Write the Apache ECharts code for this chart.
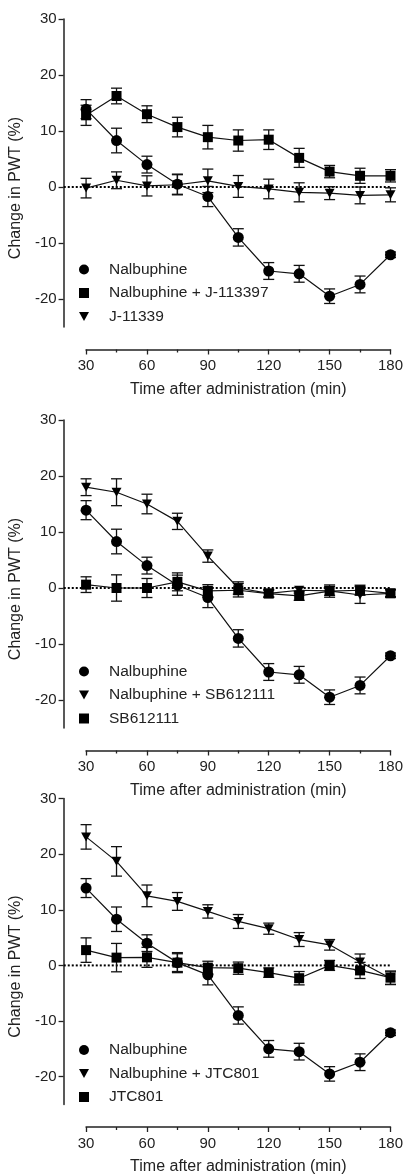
<!DOCTYPE html>
<html>
<head>
<meta charset="utf-8">
<script src="https://cdn.jsdelivr.net/npm/echarts@6/dist/echarts.min.js"></script>
<style>
html,body{margin:0;padding:0;background:#fff;}
#c{width:406px;height:1176px;}
</style>
</head>
<body>
<div id="c"></div>
<script>
// ---- data ----
const times = [30, 45, 60, 75, 90, 105, 120, 135, 150, 165, 180];

const nalbuphine   = [13.9, 8.3, 4.0, 0.5, -1.7, -9.0, -15.0, -15.5, -19.5, -17.4, -12.1];
const nalbuphineSE = [1.7, 2.2, 1.5, 1.8, 1.8, 1.55, 1.5, 1.5, 1.3, 1.5, 0.5];

const nalJ113397   = [12.8, 16.25, 13.0, 10.7, 8.9, 8.3, 8.45, 5.2, 2.75, 2.0, 2.0];
const nalJ113397SE = [1.8, 1.4, 1.5, 1.75, 2.1, 1.9, 1.75, 1.7, 1.1, 1.35, 1.1];
const j11339       = [-0.2, 1.2, 0.2, 0.4, 1.1, 0.1, -0.35, -0.95, -1.1, -1.5, -1.4];
const j11339SE     = [1.75, 1.5, 1.8, 1.8, 2.1, 1.95, 1.75, 1.7, 1.15, 1.5, 1.25];

const nalSB        = [18.0, 17.1, 15.0, 11.9, 5.7, 0.0, -0.95, -0.4, -0.5, -1.25, -0.95];
const nalSBSE      = [1.5, 2.4, 1.75, 1.45, 1.1, 1.1, 0.7, 0.5, 0.8, 1.5, 0.6];
const sb612111     = [0.6, 0.0, 0.0, 1.1, -0.5, -0.4, -1.0, -1.4, -0.55, -0.4, -0.95];
const sb612111SE   = [1.4, 2.35, 1.7, 1.6, 1.1, 1.2, 0.6, 0.8, 1.1, 0.9, 0.7];

const nalJTC       = [23.1, 18.7, 12.5, 11.5, 9.7, 7.9, 6.6, 4.65, 3.7, 0.6, -2.3];
const nalJTCSE     = [2.2, 2.65, 1.95, 1.6, 1.2, 1.25, 1.0, 1.25, 0.95, 1.45, 1.15];
const jtc801       = [2.75, 1.4, 1.45, 0.5, -0.4, -0.5, -1.3, -2.3, 0.0, -0.9, -2.2];
const jtc801SE     = [2.2, 2.55, 1.8, 1.6, 1.15, 1.1, 0.85, 1.2, 0.9, 1.45, 1.2];

const yMajorTicks = [-20, -10, 0, 10, 20, 30];
const yMinorTicks = [-25, -15, -5, 5, 15, 25];
const yRange = [-25, 30];
const xRange = [30, 180];
const xInterval = 30;
const refLineX = [19, 180];
const refLineY = 0;

const xTitle = 'Time after administration (min)';
const yTitle = 'Change in PWT (%)';

// panel definitions: [name, values, se, symbol]
const panels = [
  [['Nalbuphine', nalbuphine, nalbuphineSE, 'circle'],
   ['Nalbuphine + J-113397', nalJ113397, nalJ113397SE, 'rect'],
   ['J-11339', j11339, j11339SE, 'down']],
  [['Nalbuphine', nalbuphine, nalbuphineSE, 'circle'],
   ['Nalbuphine + SB612111', nalSB, nalSBSE, 'down'],
   ['SB612111', sb612111, sb612111SE, 'rect']],
  [['Nalbuphine', nalbuphine, nalbuphineSE, 'circle'],
   ['Nalbuphine + JTC801', nalJTC, nalJTCSE, 'down'],
   ['JTC801', jtc801, jtc801SE, 'rect']]
];

// ---- layout ----
const FONT = 'Liberation Sans, Arial, sans-serif';
const TXT = '#222';
const gridTops = [19, 420, 798.5];
const gridH = 308;
const legendTops = [261.5, 663.5, 1042];
const downPath = 'path://M0,0L10,0L5,9Z';

const grids = [], xAxes = [], yAxes = [], series = [], legends = [];

gridTops.forEach((top, gi) => {
  grids.push({left: 85, right: 12, top: top, height: gridH, containLabel: false});
  xAxes.push({
    type: 'value', gridIndex: gi, min: xRange[0], max: xRange[1], interval: xInterval,
    offset: 22.5,
    name: xTitle, nameLocation: 'middle', nameGap: 32,
    nameTextStyle: {fontFamily: FONT, fontSize: 16, color: TXT},
    axisLine: {show: true, onZero: false, lineStyle: {color: '#222', width: 1.5}},
    axisTick: {show: true, inside: false, length: 5, lineStyle: {color: '#222', width: 1.3}},
    minorTick: {show: true, splitNumber: 2, length: 3, lineStyle: {color: '#222', width: 1.3}},
    axisLabel: {fontFamily: FONT, fontSize: 15, color: TXT, margin: 9},
    splitLine: {show: false}
  });
  yAxes.push({
    type: 'value', gridIndex: gi, min: yRange[0], max: yRange[1], offset: 22.5,
    name: yTitle, nameLocation: 'middle', nameGap: 37,
    nameTextStyle: {fontFamily: FONT, fontSize: 16, color: TXT, padding: [0, 30, 0, 0]},
    axisLine: {show: true, onZero: false, lineStyle: {color: '#222', width: 1.5}},
    axisTick: {show: true, inside: false, length: 5, customValues: yMajorTicks,
               lineStyle: {color: '#222', width: 1.3}},
    axisLabel: {fontFamily: FONT, fontSize: 15, color: TXT, margin: 7, customValues: yMajorTicks},
    splitLine: {show: false}
  });
});
// minor tick overlays for y axes
gridTops.forEach((top, gi) => {
  yAxes.push({
    type: 'value', gridIndex: gi, min: yRange[0], max: yRange[1], offset: 22.5,
    axisLine: {show: false},
    axisTick: {show: true, inside: false, length: 3, customValues: yMinorTicks,
               lineStyle: {color: '#222', width: 1.3}},
    axisLabel: {show: false},
    splitLine: {show: false}
  });
});

function errRender(params, api) {
  const x = api.value(0), m = api.value(1), e = api.value(2);
  const t = api.coord([x, m + e]);
  const b = api.coord([x, m - e]);
  const hw = 5.5;
  const st = {stroke: '#111', lineWidth: 1.3};
  return {type: 'group', children: [
    {type: 'line', shape: {x1: t[0], y1: t[1], x2: b[0], y2: b[1]}, style: st},
    {type: 'line', shape: {x1: t[0] - hw, y1: t[1], x2: t[0] + hw, y2: t[1]}, style: st},
    {type: 'line', shape: {x1: b[0] - hw, y1: b[1], x2: b[0] + hw, y2: b[1]}, style: st}
  ]};
}

function refRender(params, api) {
  if (params.dataIndex !== 0) return null;
  const a = api.coord([refLineX[0], refLineY]);
  const b = api.coord([refLineX[1], refLineY]);
  return {type: 'line', shape: {x1: a[0], y1: a[1], x2: b[0], y2: b[1]},
          style: {stroke: '#000', lineWidth: 2, lineDash: [2, 2]}};
}

panels.forEach((panel, gi) => {
  // zero reference line
  series.push({
    type: 'custom', name: 'zero' + gi, xAxisIndex: gi, yAxisIndex: gi,
    renderItem: refRender, clip: false, silent: true, z: 1,
    encode: {x: 0, y: 1},
    data: refLineX.map(x => [x, refLineY])
  });
  const legendData = [];
  panel.forEach(([name, vals, se, sym]) => {
    series.push({
      type: 'custom', name: name + ' SEM', xAxisIndex: gi, yAxisIndex: gi,
      renderItem: errRender, encode: {x: 0, y: 1}, silent: true, z: 2,
      data: times.map((t, i) => [t, vals[i], se[i]])
    });
    let symbol = sym, size = 11, rot = 0;
    if (sym === 'rect') { size = 10; }
    if (sym === 'down') { symbol = 'triangle'; size = [10, 9]; rot = 180; }
    series.push({
      type: 'line', name: name, xAxisIndex: gi, yAxisIndex: gi,
      data: times.map((t, i) => [t, vals[i]]),
      symbol: symbol, symbolSize: size, symbolRotate: rot, showAllSymbol: true,
      itemStyle: {color: '#000', borderWidth: 0},
      lineStyle: {color: '#111', width: 1.2},
      emphasis: {disabled: true}, z: 3
    });
    legendData.push({name: name, icon: sym === 'down' ? downPath : (sym === 'rect' ? 'rect' : 'circle')});
  });
  legends.push({
    data: legendData, orient: 'vertical', left: 79, top: legendTops[gi], padding: 0,
    itemWidth: 10, itemHeight: 10, itemGap: 7.5, selectedMode: false,
    textStyle: {fontFamily: FONT, fontSize: 15.5, color: TXT, lineHeight: 16, padding: [0, 0, 0, 15]}
  });
});

const chart = echarts.init(document.getElementById('c'), null, {renderer: 'canvas'});
chart.setOption({
  animation: false,
  backgroundColor: '#fff',
  color: ['#000'],
  grid: grids, xAxis: xAxes, yAxis: yAxes, legend: legends, series: series
});
</script>
</body>
</html>
